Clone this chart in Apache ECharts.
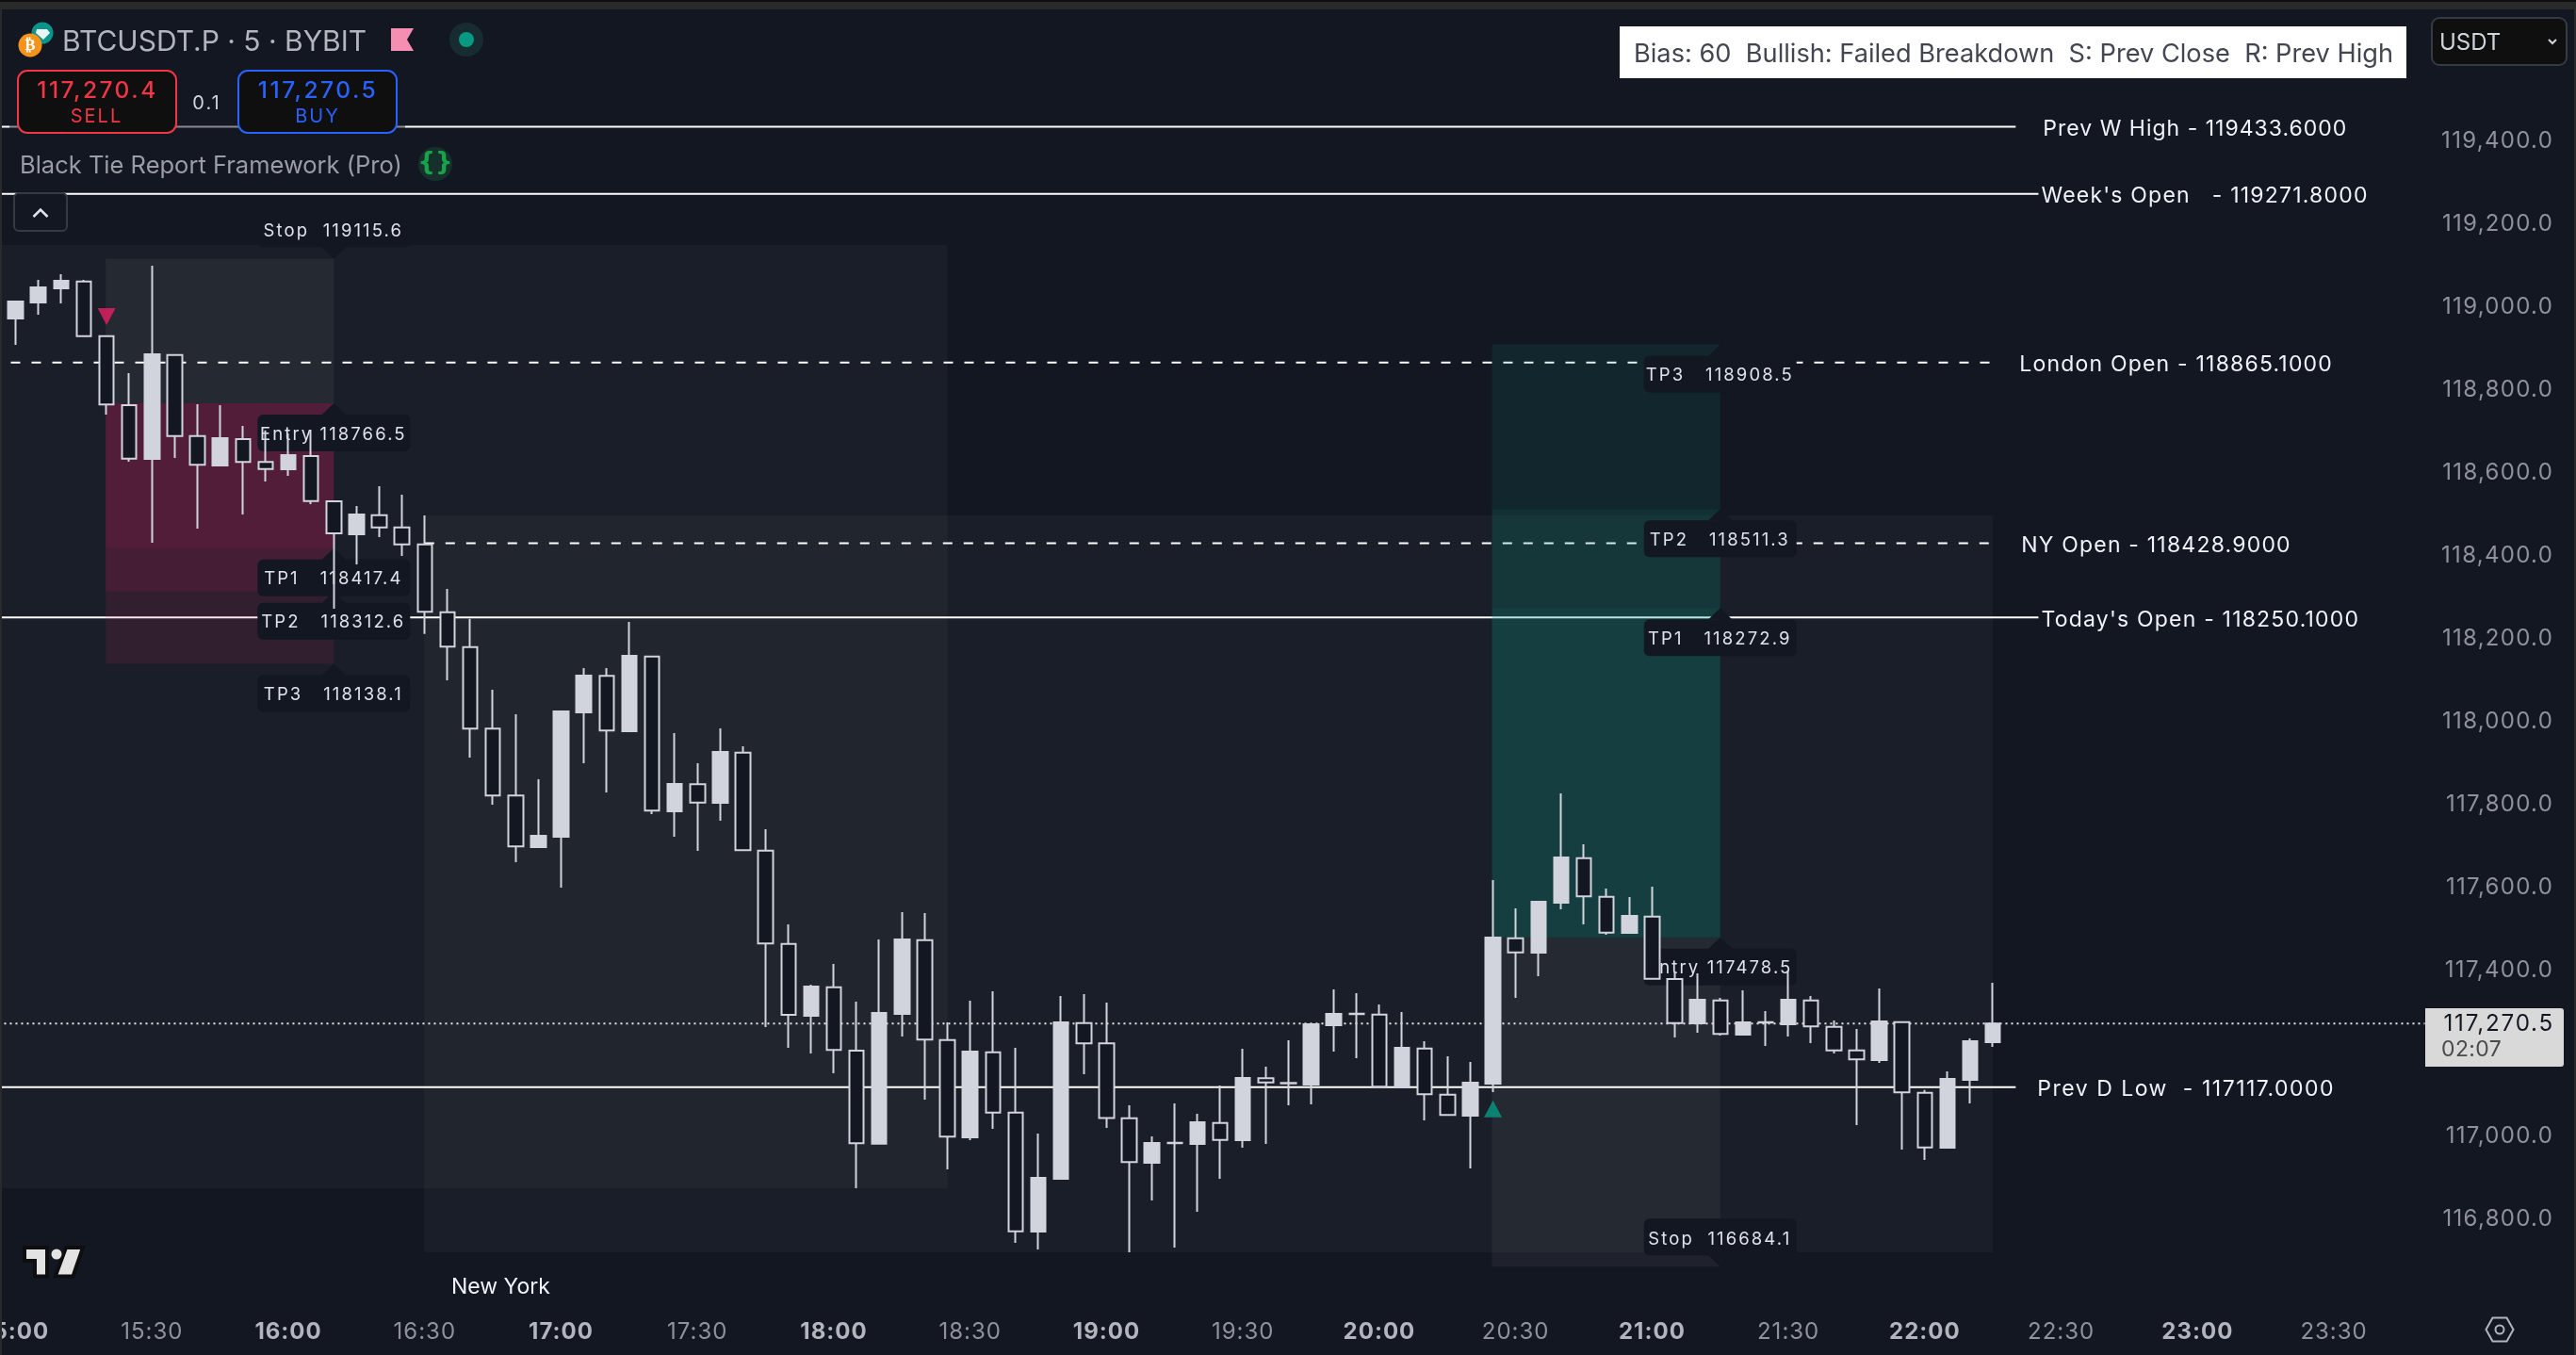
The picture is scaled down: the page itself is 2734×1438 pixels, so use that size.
<!DOCTYPE html>
<html><head><meta charset="utf-8">
<style>html,body{margin:0;padding:0;background:#131722}#c{width:2734px;height:1438px}</style>
<script src="https://cdn.jsdelivr.net/npm/echarts@6/dist/echarts.min.js"></script>
</head><body><div id="c"></div>
<script>
const opens=[118971.1,119009.8,119043.8,119060.5,118928.7,118762,118632.5,118883.3,118687.8,118616.6,
118680.2,118624.9,118607.5,118639.3,118530.2,118450.7,118496.9,118467.3,118426.4,118262.8,
118178.7,117981.7,117820.4,117696.1,117721.1,118021.1,118109,117975.7,118156,117782.5,
117847.7,117802.9,117924.2,117687.8,117462.8,117289.3,117358.2,117205.2,116980.9,117293.8,
117471.8,117230.9,116996,117201.4,117055.9,116768.8,116896,117271.8,117222.6,117042.3,
116934.7,116983,116980.2,117030.9,116989.3,117138.6,117127.2,117123.4,117266.6,117294.5,
117292.3,117116.6,117210.5,117099.1,117048.4,117125.7,117476.4,117441.6,117562,117669.6,
117576.4,117489.3,117528.7,117377.9,117271.1,117326.4,117243.9,117274,117268.9,117326.4,
117262.8,117206,117182.5,117274.2,117103.7,116971.1,117134.8,117225.7];
const closes=[119012,119046.1,119062,118928.7,118763.5,118633.2,118884.8,118687.8,118618.1,118682.5,
118624.9,118608.2,118641.6,118530.9,118452.9,118498.4,118467.3,118426.4,118263.5,118179.4,
117981.7,117820.4,117697.6,117723.4,118023.4,118109.8,117977.2,118157.5,117784,117848.4,
117803.7,117925.7,117688.6,117463.6,117291.5,117359.7,117206.7,116981.7,117296,117473.3,
117231.7,116997.6,117202.9,117055.9,116769.5,116898.3,117273.3,117222.6,117043,116936.2,
116982.4,116982,117032.4,116990,117139.3,117128.7,117126.2,117268.8,117293.8,117293.5,
117118.1,117212,117099.9,117049.9,117127.9,117478,117442.3,117564.3,117671.2,117577.2,
117490,117530.2,117378.7,117271.9,117327.9,117245.4,117273.4,117273,117327.9,117263.6,
117206,117184,117275.7,117104.5,116971.9,117137,117227.9,117270.5];
const highs=[119012,119064.3,119077.9,119064.3,118928.7,118839.3,119098.4,118883.3,118764.3,118762,
118712,118701.4,118693.8,118702.9,118530.2,118518.8,118566.6,118546.1,118496.1,118318.8,
118246.9,118075.7,118016.6,117859.8,118023.4,118127.9,118127.9,118239.3,118156,117971.2,
117898.4,117982.5,117939.3,117739.3,117509.8,117364.3,117414.2,117323.3,117473.3,117539.3,
117537,117273.3,117325.6,117348.3,117212,117005.1,117336.9,117341.5,117321,117073.3,
116998.3,117077.9,117052.9,117121,117209.7,117166.6,117230.2,117271,117352.9,117343.8,
117316.6,117298.4,117227.9,117191.6,117177.9,117616.6,117548.4,117564.3,117825.7,117703,
117596.1,117575.7,117600.7,117396.9,117391.6,117332.5,117350.7,117300.7,117398.4,117337,
117277.9,117257.5,117355.2,117275.7,117110.5,117155.2,117234.8,117368.9];
const lows=[118907.5,118980.2,119007.5,118928.7,118739.3,118625.6,118430.2,118634.7,118464.3,118616.6,
118498.4,118577.9,118591.6,118523.4,118271.1,118377.9,118443.9,118398.4,118210.5,118098.4,
117912,117798.4,117659.8,117693.9,117598.4,117898.4,117827.9,117975.7,117775.7,117721.1,
117687,117759.8,117688.6,117262,117212,117198.3,117150.6,116873.3,116980.9,117239.3,
117087,116918.8,116989.2,117016.5,116741.5,116725.6,116896,117148.3,117018.8,116718.8,
116843.8,116730.1,116816.5,116896,116971.1,116980.2,117073.4,117075.6,117202.9,117187,
117118.1,117116.6,117037,117049.9,116921.1,117105.2,117332.5,117384.8,117546.2,117509.8,
117484.8,117489.3,117378.7,117237,117248.4,117241.6,117243.9,117216.6,117239.3,117223.4,
117198.4,117025.7,117175.7,116966.6,116941.6,116968.9,117077.9,117214.3];

// Time slots: one slot before 15:00 (off the left edge), then 5-minute bars through 23:50
const times=[];
for(let m=14*60+55;m<=23*60+50;m+=5){
  times.push(String(Math.floor(m/60)).padStart(2,'0')+':'+String(m%60).padStart(2,'0'));
}
const timeTicks=['15:00','15:30','16:00','16:30','17:00','17:30','18:00','18:30','19:00','19:30','20:00','20:30','21:00','21:30','22:00','22:30','23:00','23:30'];

// Price levels
const levelNames=["Prev W High - 119433.6000","Week's Open   - 119271.8000","London Open - 118865.1000","NY Open - 118428.9000","Today's Open - 118250.1000","Prev D Low  - 117117.0000"];
const levelPrices=[119433.6,119271.8,118865.1,118428.9,118250.1,117117];
const levelFrom=['14:55','14:55','14:55','16:30','14:55','14:55'];
const levelTo=['22:20','22:25','22:15','22:15','22:25','22:20'];
const levelDashed=[false,false,true,true,false,false];
const lastPrice=117270.5;

// Sessions and position zones (from time, to time, upper price, lower price)
const sessionFrom=['14:55','16:30'], sessionTo=['18:25','22:15'];
const sessionTop=[119148.4,118496.1], sessionBottom=[116873.4,116718.9];
const shortFrom='15:20', shortTo='16:10';
const shortLevels=[119115.6,118766.5,118417.4,118312.6,118138.1];
const longFrom='20:25', longTo='21:15';
const longLevels=[116684.1,117478.5,118272.9,118511.3,118908.5];

// Position tags
const tagTimes=['16:10','16:10','16:10','16:10','16:10','21:15','21:15','21:15','21:15','21:15'];
const tagPrices=[119115.6,118766.5,118417.4,118312.6,118138.1,118908.5,118511.3,118272.9,117478.5,116684.1];
const tagTexts=['Stop  119115.6','Entry 118766.5','TP1   118417.4','TP2   118312.6','TP3   118138.1','TP3   118908.5','TP2   118511.3','TP1   118272.9','Entry 117478.5','Stop  116684.1'];

// Signal arrows
const sellSignal=[['15:20',118975.7]];
const buySignal=[['20:25',117065]];

const priceTicks={min:116600,max:119600,step:200};

// The reference type runs wider than Inter at the same height: add tracking when painting
const _fillText=CanvasRenderingContext2D.prototype.fillText;
function tracking(t,font){
  if(/^(Entry|TP\d|Stop) /.test(t)) return 2.1;
  if(/^Prev W/.test(t)) return 1;
  if(/^Prev D/.test(t)) return 1.5;
  if(/\d{6}\.\d{4}$/.test(t)) return 1.2;
  if(/^\d{3},\d{3}\.\d$/.test(t)) return font.indexOf('24.5px')>=0?2.5:(font.indexOf('24.2px')>=0?1.8:1.3);
  if(/^\d\d:\d\d$/.test(t)) return font.indexOf('23px')>=0?0.4:1;
  if(t==='SELL'||t==='BUY'||t==='0.1') return 2;
  return 0;
}
CanvasRenderingContext2D.prototype.fillText=function(t,x,y,m){
  this.letterSpacing=tracking(String(t),this.font)+'px';
  return m===undefined?_fillText.call(this,t,x,y):_fillText.call(this,t,x,y,m);
};

const BG='#131722', FONT='Inter', UP='#d1d4dc', DOWN='#131722';
const SESS='rgba(255,255,255,0.03)', STOP='rgba(255,255,255,0.05)';
const idx=t=>times.indexOf(t)-1;
const barRows=opens.map((o,i)=>[i,o,closes[i],lows[i],highs[i]]);

function rectSeries(name,z,rows){
  return {type:'custom',name,z,silent:true,animation:false,clip:false,data:rows.map(r=>r.slice(0,4)),
    encode:{x:[0,1],y:[2,3]},
    renderItem(p,api){
      const a=api.coord([api.value(0),api.value(2)]),b=api.coord([api.value(1),api.value(3)]);
      return {type:'rect',shape:{x:a[0]-1,y:a[1],width:b[0]-a[0]+1,height:b[1]-a[1]},style:{fill:rows[p.dataIndex][4]}};
    }};
}
const sessionRows=sessionFrom.map((f,i)=>[idx(f),idx(sessionTo[i]),sessionTop[i],sessionBottom[i],SESS]);
const pinkA=[.27,.21,.116], tealA=[.27,.2,.12];
const sX=[idx(shortFrom),idx(shortTo)], lX=[idx(longFrom),idx(longTo)];
const positionRows=[
 [sX[0],sX[1],shortLevels[0],shortLevels[1],STOP],
 ...pinkA.map((a,i)=>[sX[0],sX[1],shortLevels[i+1],shortLevels[i+2],`rgba(233,30,99,${a})`]),
 [lX[0],lX[1],longLevels[1],longLevels[0],STOP],
 ...tealA.map((a,i)=>[lX[0],lX[1],longLevels[i+2],longLevels[i+1],`rgba(8,153,129,${a})`])
];

function hLine(name,from,to,price,dash,off,color){
  return {type:'line',name,z:2,silent:true,animation:false,symbol:'none',
    data:[[idx(from),price],[idx(to),price]],
    lineStyle:{color:color||'#ffffff',width:2,type:dash||'solid',dashOffset:off||0}};
}
const levelGap=[29,3,28,30,3,23];

const tagSeries={type:'custom',name:'tags',z:4,silent:true,animation:false,clip:false,
  data:tagTimes.map((t,i)=>[idx(t),tagPrices[i]]),encode:{x:0,y:1},
  renderItem(p,api){
    const c=api.coord([api.value(0),api.value(1)]),i=p.dataIndex;
    const down=tagTexts[i].startsWith('Stop');
    const s=down?-1:1, W=162,H=39,gap=12;
    const top=down?c[1]-gap-H:c[1]+gap;
    return {type:'group',children:[
      {type:'rect',shape:{x:c[0]-W/2,y:top,width:W,height:H,r:6},style:{fill:BG}},
      {type:'polygon',shape:{points:[[c[0],c[1]],[c[0]-12.5,c[1]+s*gap],[c[0]+12.5,c[1]+s*gap]]},style:{fill:BG}},
      {type:'text',style:{x:c[0]-0.5,y:top+H/2+(down?3:1.5),text:tagTexts[i],fill:'#e0e3eb',font:`18.5px ${FONT}`,textAlign:'center',textVerticalAlign:'middle'}}
    ]};
  }};
const levelLabelSeries={type:'custom',name:'levelLabels',z:7,silent:true,animation:false,clip:false,
  data:levelNames.map((n,i)=>[idx(levelTo[i]),levelPrices[i]]),encode:{x:0,y:1},
  renderItem(p,api){
    const c=api.coord([api.value(0),api.value(1)]),i=p.dataIndex;
    return {type:'text',style:{x:c[0]+levelGap[i],y:c[1]+2.5,text:levelNames[i],fill:'#f0f3fa',font:`23px ${FONT}`,textAlign:'left',textVerticalAlign:'middle'}};
  }};

const T=(x,y,text,size,fill,extra)=>Object.assign({type:'text',z:60,silent:true,style:Object.assign({x,y:y+1.5,text,fill,font:`${size}px ${FONT}`,textAlign:'left',textVerticalAlign:'middle'},extra||{})});
const R=(x,y,w,h,fill,extra,r)=>({type:'rect',z:(extra&&extra.z)||55,silent:true,shape:{x,y,width:w,height:h,r:r||0},style:Object.assign({fill},extra&&extra.style||{})});
const graphics=[
  R(0,0,2734,2,'#0e0e0e'),R(0,2,2734,8,'#2a2a2a'),R(0,10,2,1428,'#2a2a2a'),R(2732,10,2,1428,'#2a2a2a'),
  R(10,131,420,7,'rgba(19,23,34,0.5)',{z:50}),
  // symbol icons
  {type:'circle',z:56,silent:true,shape:{cx:45,cy:35,r:11.5},style:{fill:'#0b948a'}},
  {type:'polygon',z:57,silent:true,shape:{points:[[39,31],[50,31],[53,35],[46,42],[38,35]]},style:{fill:'#e9f5f4'}},
  {type:'circle',z:57,silent:true,shape:{cx:32,cy:48,r:12.5},style:{fill:'#f7931a'}},
  T(32,47,'₿',17,'#ffffff',{textAlign:'center',font:'bold 17px "DejaVu Sans"'}),
  T(66,43,'BTCUSDT.P · 5 · BYBIT',30,'#b2b5be'),
  {type:'polygon',z:56,silent:true,shape:{points:[[415,30],[439,30],[432,42],[439,54],[415,54]]},style:{fill:'#f48fb1'}},
  {type:'circle',z:56,silent:true,shape:{cx:495,cy:42,r:18},style:{fill:'#172c31'}},
  {type:'circle',z:57,silent:true,shape:{cx:495,cy:42,r:8},style:{fill:'#089981'}},
  // sell / buy
  R(19,75,168,66,'#0f0f0f',{style:{stroke:'#f23645',lineWidth:2}},10),
  T(103.5,95,'117,270.4',24.5,'#f23645',{textAlign:'center',font:`500 24.5px ${FONT}`}),
  T(102.5,122,'SELL',20,'#f23645',{textAlign:'center'}),
  T(219.5,108,'0.1',20,'#d1d4dc',{textAlign:'center'}),
  R(253,75,168,66,'#0f0f0f',{style:{stroke:'#2962ff',lineWidth:2}},10),
  T(337.5,95,'117,270.5',24.5,'#2962ff',{textAlign:'center',font:`500 24.5px ${FONT}`}),
  T(337,122,'BUY',20,'#2962ff',{textAlign:'center'}),
  // indicator legend
  T(21,174.5,'Black Tie Report Framework (Pro)',25.5,'#9a9da6'),
  {type:'circle',z:56,silent:true,shape:{cx:462,cy:174,r:18},style:{fill:'#16302c'}},
  T(462,171.5,'{}',26,'#16a34a',{textAlign:'center',font:'bold 26px "DejaVu Sans"'}),
  R(15,205,56,40,BG,{style:{stroke:'#363a45',lineWidth:2}},5),
  {type:'polyline',z:57,silent:true,shape:{points:[[35.5,230],[43,222.5],[50.5,230]]},style:{stroke:'#e0e3eb',lineWidth:2.5,fill:null}},
  // bias box
  R(1719,28,835,55,'#ffffff'),
  T(1734,56,'Bias: 60  Bullish: Failed Breakdown  S: Prev Close  R: Prev High',27.2,'#434651'),
  // currency
  R(2581,19,143,50,'#0f0f0f',{style:{stroke:'#363a45',lineWidth:2}},8),
  T(2589,44,'USDT',24,'#d1d4dc'),
  {type:'polyline',z:57,silent:true,shape:{points:[[2705,42],[2709,46],[2713,42]]},style:{stroke:'#d1d4dc',lineWidth:2,fill:null}},
  // last price tag
  R(2574,1070,147,62,'#d9d9d9',null,[0,3,3,0]),
  T(2711,1085,'117,270.5',24.2,'#131722',{textAlign:'right'}),
  T(2591,1113,'02:07',23,'#4a4a4a'),
  // logo
  {type:'polygon',z:56,silent:true,shape:{points:[[26,1324],[50,1324],[50,1354.5],[37,1354.5],[37,1338],[26,1338]]},style:{fill:'#e3e3e3',stroke:'#0e0e0e',lineWidth:4}},
  {type:'polygon',z:56,silent:true,shape:{points:[[70,1324],[88,1324],[77.5,1354.5],[58.7,1354.5]]},style:{fill:'#e3e3e3',stroke:'#0e0e0e',lineWidth:4}},
  {type:'circle',z:57,silent:true,shape:{cx:60,cy:1331,r:5.5},style:{fill:'#e3e3e3'}},
  T(479,1364.5,'New York',23,'#f0f3fa'),
  // settings
  {type:'polygon',z:56,silent:true,shape:{points:[[2638.5,1411],[2645.5,1398.5],[2660.5,1398.5],[2667.5,1411],[2660.5,1423.5],[2645.5,1423.5]]},style:{fill:null,stroke:'#b2b5be',lineWidth:2}},
  {type:'circle',z:56,silent:true,shape:{cx:2653,cy:1411,r:4.5},style:{fill:null,stroke:'#b2b5be',lineWidth:2}}
];

const chart=echarts.init(document.getElementById('c'),null,{renderer:'canvas'});
chart.setOption({
  animation:false,backgroundColor:BG,tooltip:{show:false},legend:{show:false},
  grid:{left:1.6,top:61.3,width:2584,height:1320,containLabel:false,outerBoundsMode:'none'},
  xAxis:{type:'value',min:-0.622,max:106.5,axisLine:{show:false},axisTick:{show:false},splitLine:{show:false},
    axisLabel:{margin:20,customValues:timeTicks.map(idx),showMinLabel:true,showMaxLabel:true,hideOverlap:false,
      formatter:v=>{const s=times[Math.round(v)+1];return s.endsWith(':00')?`{b|${s}}`:`{n|${s}}`;},
      rich:{b:{fontFamily:FONT,fontWeight:'bold',fontSize:24,color:'#b2b5be'},n:{fontFamily:FONT,fontSize:24,color:'#8f929b'}}}},
  yAxis:{type:'value',position:'right',min:priceTicks.min,max:priceTicks.max,interval:priceTicks.step,
    splitLine:{show:false},axisLine:{show:false},axisTick:{show:false},
    axisLabel:{showMinLabel:false,showMaxLabel:false,align:'right',margin:124.5,fontFamily:FONT,fontSize:24,color:'#8f929b',
      formatter:v=>v.toLocaleString('en-US',{minimumFractionDigits:1,maximumFractionDigits:1})}},
  graphic:{elements:graphics},
  series:[
    rectSeries('sessions',1,sessionRows),
    ...levelNames.map((n,i)=>hLine(n,levelFrom[i],levelTo[i],levelPrices[i],levelDashed[i]?[10,12]:null,levelDashed[i]?(i===2?3:0):0)),
    hLine('last','14:55','23:50',lastPrice,[2,4],0,'#e8e8ea'),
    rectSeries('positions',3,positionRows),
    tagSeries,
    {type:'candlestick',name:'BTCUSDT.P',z:5,silent:true,animation:false,data:barRows,encode:{x:0,y:[1,2,3,4]},barWidth:16,
      itemStyle:{color:UP,color0:DOWN,borderColor:UP,borderColor0:UP,borderWidth:2}},
    {type:'scatter',name:'sell',z:6,silent:true,animation:false,symbol:'triangle',symbolRotate:180,symbolSize:[19,18],data:sellSignal.map(d=>[idx(d[0]),d[1]]),itemStyle:{color:'#e91e63'}},
    {type:'scatter',name:'buy',z:6,silent:true,animation:false,symbol:'triangle',symbolSize:[19,18],data:buySignal.map(d=>[idx(d[0]),d[1]]),itemStyle:{color:'#089981'}},
    levelLabelSeries
  ]
});
</script></body></html>
